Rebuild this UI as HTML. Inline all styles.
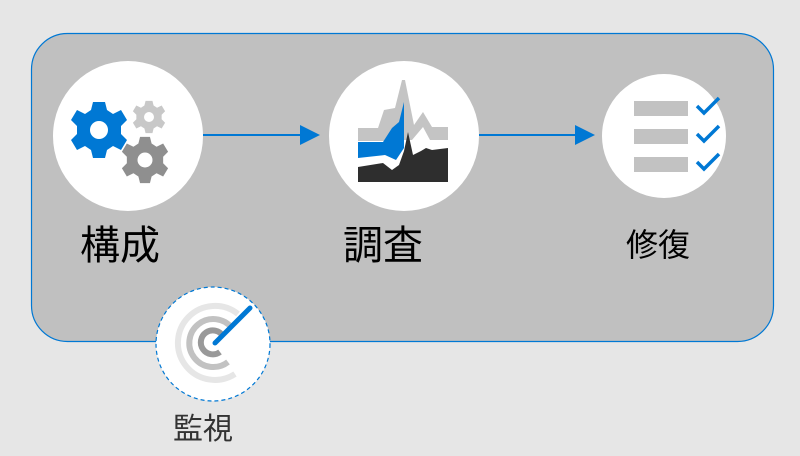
<!DOCTYPE html>
<html><head><meta charset="utf-8"><style>
body{margin:0;width:800px;height:451px;background:#e6e6e6;overflow:hidden;font-family:"Liberation Sans","Noto Sans CJK JP",sans-serif}
</style></head><body>
<svg width="800" height="451" viewBox="0 0 800 451" xmlns="http://www.w3.org/2000/svg">
<defs>
<g id="gear"><path d="M-4,-10 L-3,-14 L3,-14 L4,-10 L7,-8 L11,-10 L14,-5 L11,-2 L11,2 L14,5 L11,10 L7,8 L4,10 L3,14 L-3,14 L-4,10 L-7,8 L-11,10 L-14,5 L-11,2 L-11,-2 L-14,-5 L-11,-10 L-7,-8 Z"/></g>
</defs>
<rect x="31.5" y="33.5" width="742" height="308" rx="36" fill="#c0c0c0" stroke="#0078d4" stroke-width="1.2"/>
<circle cx="128" cy="136" r="75" fill="#fff"/>
<circle cx="404" cy="136" r="75" fill="#fff"/>
<circle cx="664" cy="136" r="62" fill="#fff"/>
<circle cx="213" cy="344" r="57" fill="#fff" stroke="#0078d4" stroke-width="1.2" stroke-dasharray="4,3"/>
<!-- arrows -->
<line x1="203" y1="135" x2="302" y2="135" stroke="#0078d4" stroke-width="2"/>
<polygon points="300,125 320,135 300,145" fill="#0078d4"/>
<line x1="479" y1="135" x2="577" y2="135" stroke="#0078d4" stroke-width="2"/>
<polygon points="575,125 595,135 575,145" fill="#0078d4"/>
<!-- gears -->
<g transform="translate(99,130) scale(2)" fill="#0078d4"><use href="#gear"/></g>
<circle cx="99" cy="130" r="9" fill="#fff"/>
<g transform="translate(149,117) scale(1.15)" fill="#c8c8c8"><use href="#gear"/></g>
<circle cx="149" cy="117" r="5" fill="#fff"/>
<g transform="translate(145,160) scale(1.65)" fill="#8f8f8f"><use href="#gear"/></g>
<circle cx="145" cy="160" r="7.5" fill="#fff"/>
<!-- chart -->
<path d="M358,128 L378,128 L384,110 L395,108 L402,80 L405,80 L414,125 L423,112 L432,127 L448,127 L448,140 L430,140 L423,127 L412,140 L404,140 L396,150 L385,141 L358,141Z" fill="#c4c4c4"/>
<path d="M358,142 L383,142 L392,128 L399,122 L404,102 L404,148 L396,160 L385,155 L358,158Z" fill="#0078d4"/>
<path d="M358,167 L383,163 L392,170 L399,165 L404,151 L408,132 L413,155 L421,151 L426,148 L432,150 L448,148 L448,182 L358,182Z" fill="#2e2e2e"/>
<!-- checklist -->
<g fill="#c2c2c2"><rect x="634" y="101" width="54" height="15"/><rect x="634" y="129" width="54" height="15"/><rect x="634" y="157" width="54" height="15"/></g>
<g fill="none" stroke="#0078d4" stroke-width="3.5"><path d="M697,106 L704,113 L719,98"/><path d="M697,134 L704,141 L719,126"/><path d="M697,162 L704,169 L719,154"/></g>
<!-- radar -->
<g fill="none" stroke-linecap="butt">
<path d="M235,374 A37,37 0 1 1 238,314" stroke="#e6e6e6" stroke-width="6"/>
<path d="M228,362 A24,24 0 1 1 232,328" stroke="#c2c2c2" stroke-width="6"/>
<path d="M220,352 A12,12 0 1 1 223,336" stroke="#999" stroke-width="6"/>
</g>
<line x1="215" y1="343" x2="250" y2="308" stroke="#0078d4" stroke-width="5" stroke-linecap="round"/>
<g font-family="Liberation Sans, Noto Sans CJK JP, sans-serif" text-anchor="middle">
<text x="120" y="259" font-size="40" fill="#000">構成</text>
<text x="383" y="259" font-size="40" fill="#000">調査</text>
<text x="658" y="256" font-size="32" fill="#000">修復</text>
<text x="203" y="439" font-size="30" fill="#333">監視</text>
</g>
</svg>
</body></html>
